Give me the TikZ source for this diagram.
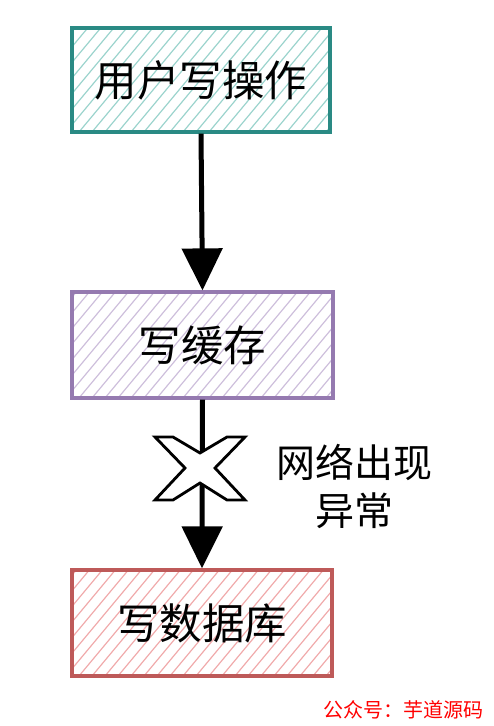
\documentclass[tikz,border=0pt]{standalone}
\usepackage{fontspec}
\setmainfont{Noto Sans CJK SC}
\usetikzlibrary{arrows.meta,calc}
\definecolor{tealB}{HTML}{2A8A84}
\definecolor{tealH}{HTML}{9AD3CC}
\definecolor{purpB}{HTML}{957AB0}
\definecolor{purpH}{HTML}{CDBEDB}
\definecolor{redB}{HTML}{BE5A59}
\definecolor{redH}{HTML}{F0A9AA}
\tikzset{
  hatchbox/.style n args={2}{draw=#1, line width=3.2pt, minimum width=258pt, minimum height=104pt,
    inner sep=0pt, font=\fontsize{42.5}{46}\selectfont,
    path picture={
      \foreach \i in {0,...,32}{
        \draw[#2, line width=1.2pt] ($(path picture bounding box.south west)+(\i*13pt-110pt,0pt)$) -- ++(100pt,120pt);
      }
    }},
  conn/.style={line width=5pt, -{Triangle[width=40pt,length=42pt]}},
}
\begin{document}
\begin{tikzpicture}[x=1pt,y=-1pt]
\useasboundingbox (0,0) rectangle (494,726);
\node[hatchbox={tealB}{tealH}] (user) at (201,80) {用户写操作};
\node[hatchbox={purpB}{purpH}, minimum width=261pt, minimum height=106pt] (cache) at (202.5,345) {写缓存};
\node[hatchbox={redB}{redH}, minimum width=260pt, minimum height=106pt] (db) at (202,623) {写数据库};
\draw[conn] (user.south) -- (cache.north);
\draw[conn] (cache.south) -- (db.north);
\coordinate (xm) at (200,468);
\draw[line width=2.8pt, fill=white, line join=miter]
  ($(xm)+(-45,-31)$) -- ($(xm)+(-27,-31)$) -- ($(xm)+(0,-15)$) -- ($(xm)+(27,-31)$) -- ($(xm)+(45,-31)$)
  -- ($(xm)+(15,0)$) -- ($(xm)+(45,32)$) -- ($(xm)+(27,32)$) -- ($(xm)+(0,15)$) -- ($(xm)+(-27,32)$)
  -- ($(xm)+(-45,32)$) -- ($(xm)+(-15,0)$) -- cycle;
\node[font=\fontsize{39}{48}\selectfont, align=center] (lbl) at (354,486) {网络出现\\异常};
\node[font=\fontsize{20}{22}\selectfont, text=red] (wm) at (403,710) {公众号：芋道源码};
\end{tikzpicture}
\end{document}
